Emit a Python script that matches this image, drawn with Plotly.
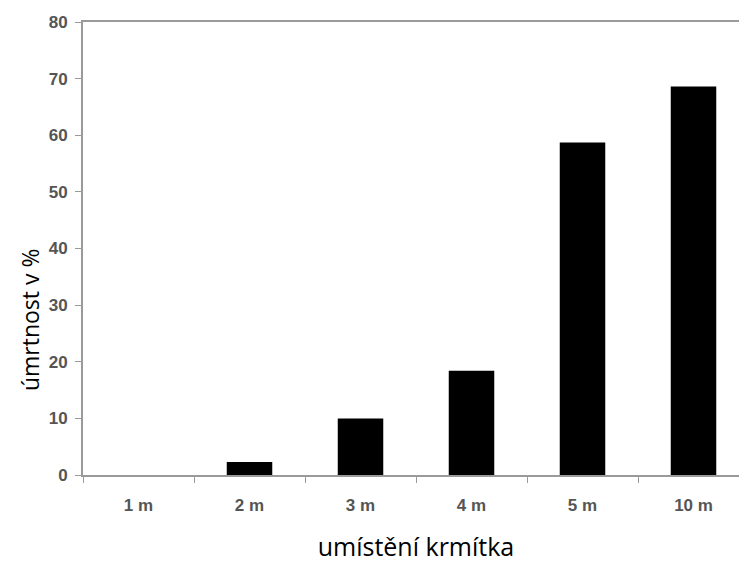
import plotly.graph_objects as go

categories = ["1 m", "2 m", "3 m", "4 m", "5 m", "10 m"]
values = [0, 2.3, 10.0, 18.4, 58.7, 68.6]
y_ticks = [0, 10, 20, 30, 40, 50, 60, 70, 80]

fig = go.Figure()
fig.add_trace(go.Bar(x=categories, y=values, marker=dict(color="black", line=dict(width=0)), width=0.41))

axis_col = "#9a9a9a"
tick_font = dict(family="Liberation Sans, Arial, sans-serif", size=17, color="#555555", weight="bold")

fig.update_layout(
    width=741, height=555,
    margin=dict(l=75, r=0, t=14, b=88),
    paper_bgcolor="white", plot_bgcolor="white",
    showlegend=False,
    xaxis=dict(
        type="category", tickson="boundaries", ticks="outside", ticklen=6, tickcolor=axis_col,
        showline=True, linecolor=axis_col, linewidth=2, mirror=True,
        tickfont=tick_font, showgrid=False, ticklabelstandoff=14,
        title=dict(text="umístění krmítka", font=dict(family="Open Sans, Noto Sans, sans-serif", size=25, color="black"), standoff=25),
    ),
    yaxis=dict(
        range=[0, 80], tickvals=y_ticks, ticks="outside", ticklen=6, tickcolor=axis_col,
        showline=True, linecolor=axis_col, linewidth=2, showgrid=False, zeroline=False,
        tickfont=tick_font, ticklabelstandoff=4,
    ),
    annotations=[dict(
        text="úmrtnost v %", textangle=-90, xref="paper", yref="paper",
        x=0, y=0.342, xshift=-53, xanchor="center", yanchor="middle", showarrow=False,
        font=dict(family="Open Sans, Noto Sans, sans-serif", size=23, color="black"),
    )],
)

fig.write_html("out.html")
